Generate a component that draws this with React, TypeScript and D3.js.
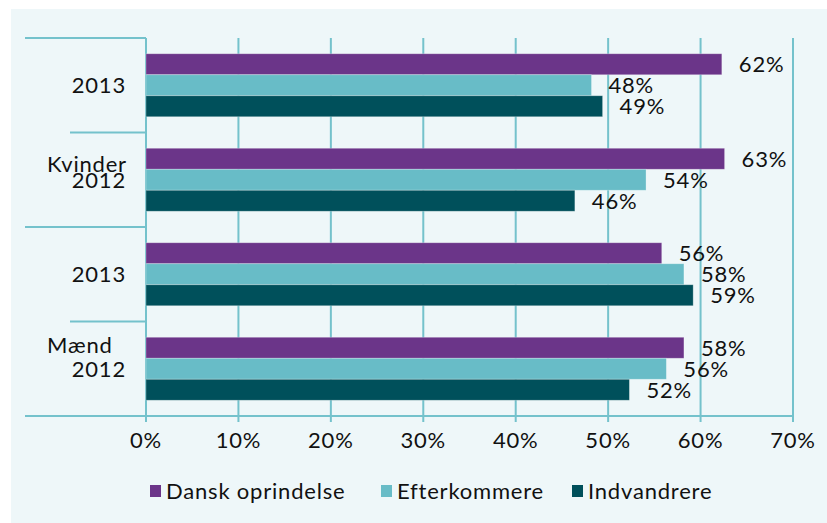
import React, { useEffect, useRef } from 'react';
import * as d3 from 'd3';

const rows = ['Kvinder 2013', 'Kvinder 2012', 'Mænd 2013', 'Mænd 2012'];
const years = ['2013', '2012', '2013', '2012'];
const series = ['Dansk oprindelse', 'Efterkommere', 'Indvandrere'];
const colors = ['#6b3589', '#68bcc7', '#00505b'];
const dansk = [62.3, 62.6, 55.8, 58.2];
const efterkommere = [48.2, 54.1, 58.2, 56.3];
const indvandrere = [49.4, 46.4, 59.2, 52.3];
const ticks = [0, 10, 20, 30, 40, 50, 60, 70];

const W = 827;
const H = 523;
const FONT = 'Lato, "DejaVu Sans", sans-serif';
const GRID = '#74c2cc';

const App = () => {
  const svgRef = useRef<SVGSVGElement>(null);

  useEffect(() => {
    const svg = d3.select(svgRef.current);
    svg.selectAll('*').remove();

    // panel background
    svg.append('rect').attr('x', 11).attr('y', 9).attr('width', W - 11).attr('height', H - 9).attr('fill', '#eef7f9');

    const x = d3.scaleLinear().domain([0, 70]).range([146, 793]);
    const y = d3.scaleBand().domain(rows).range([38, 416]);
    const inner = d3.scaleBand().domain(series).range([0, y.bandwidth()]).paddingOuter(0.75);
    const values = [dansk, efterkommere, indvandrere];

    const label = (sel: any) => sel
      .style('font-family', FONT).style('font-size', '22px')
      .style('letter-spacing', '0.8px').style('fill', '#111');

    // vertical gridlines + ticks
    svg.append('g').selectAll('line').data(ticks).enter().append('line')
      .attr('x1', d => x(d)).attr('x2', d => x(d))
      .attr('y1', 38).attr('y2', 422)
      .attr('stroke', GRID).attr('stroke-width', 2);

    // category separators
    const bounds = [38, ...rows.map(r => (y(r) as number) + y.bandwidth())];
    svg.append('g').selectAll('line').data(bounds).enter().append('line')
      .attr('x1', (d, i) => (i % 2 === 0 ? 25 : 70))
      .attr('x2', (d, i) => (i === bounds.length - 1 ? 793 : 146))
      .attr('y1', d => d).attr('y2', d => d)
      .attr('stroke', GRID).attr('stroke-width', 2);

    // bars
    series.forEach((s, si) => {
      svg.append('g').selectAll('rect').data(rows).enter().append('rect')
        .attr('x', x(0))
        .attr('y', r => (y(r) as number) + (inner(s) as number))
        .attr('width', (r, i) => x(values[si][i]) - x(0))
        .attr('height', inner.bandwidth())
        .attr('fill', colors[si])
        .attr('stroke', '#ffffff').attr('stroke-opacity', 0.35).attr('stroke-width', 0.8);

      svg.append('g').selectAll('text').data(rows).enter().append('text')
        .attr('x', (r, i) => x(values[si][i]) + 17)
        .attr('y', r => (y(r) as number) + (inner(s) as number) + inner.bandwidth() / 2 + 8)
        .text((r, i) => `${Math.round(values[si][i])}%`)
        .call(label);
    });

    // y labels
    svg.append('g').selectAll('text').data(rows).enter().append('text')
      .attr('x', 126).attr('text-anchor', 'end')
      .attr('y', r => (y(r) as number) + y.bandwidth() / 2 + 8)
      .text((r, i) => years[i])
      .call(label);
    svg.append('text').attr('x', 47)
      .attr('y', (y('Kvinder 2012') as number) + y.bandwidth() / 2 - 8)
      .text('Kvinder').call(label);
    svg.append('text').attr('x', 47)
      .attr('y', (y('Mænd 2012') as number) + y.bandwidth() / 2 - 16)
      .text('Mænd').call(label);

    // x tick labels
    svg.append('g').selectAll('text').data(ticks).enter().append('text')
      .attr('x', d => x(d)).attr('y', 448).attr('text-anchor', 'middle')
      .text(d => `${d}%`)
      .call(label);

    // legend
    const legendX = [150, 381, 572];
    const lg = svg.append('g').selectAll('g').data(series).enter().append('g')
      .attr('transform', (d, i) => `translate(${legendX[i]},0)`);
    lg.append('rect').attr('x', 0).attr('y', 485).attr('width', 11).attr('height', 12)
      .attr('fill', (d, i) => colors[i]);
    lg.append('text').attr('x', 16).attr('y', 499).text(d => d)
      .call(label);
  }, []);

  return (
    <svg ref={svgRef} width={W} height={H}
      style={{ position: 'absolute', left: 0, top: 0, background: '#fff' }} />
  );
};

export default App;
